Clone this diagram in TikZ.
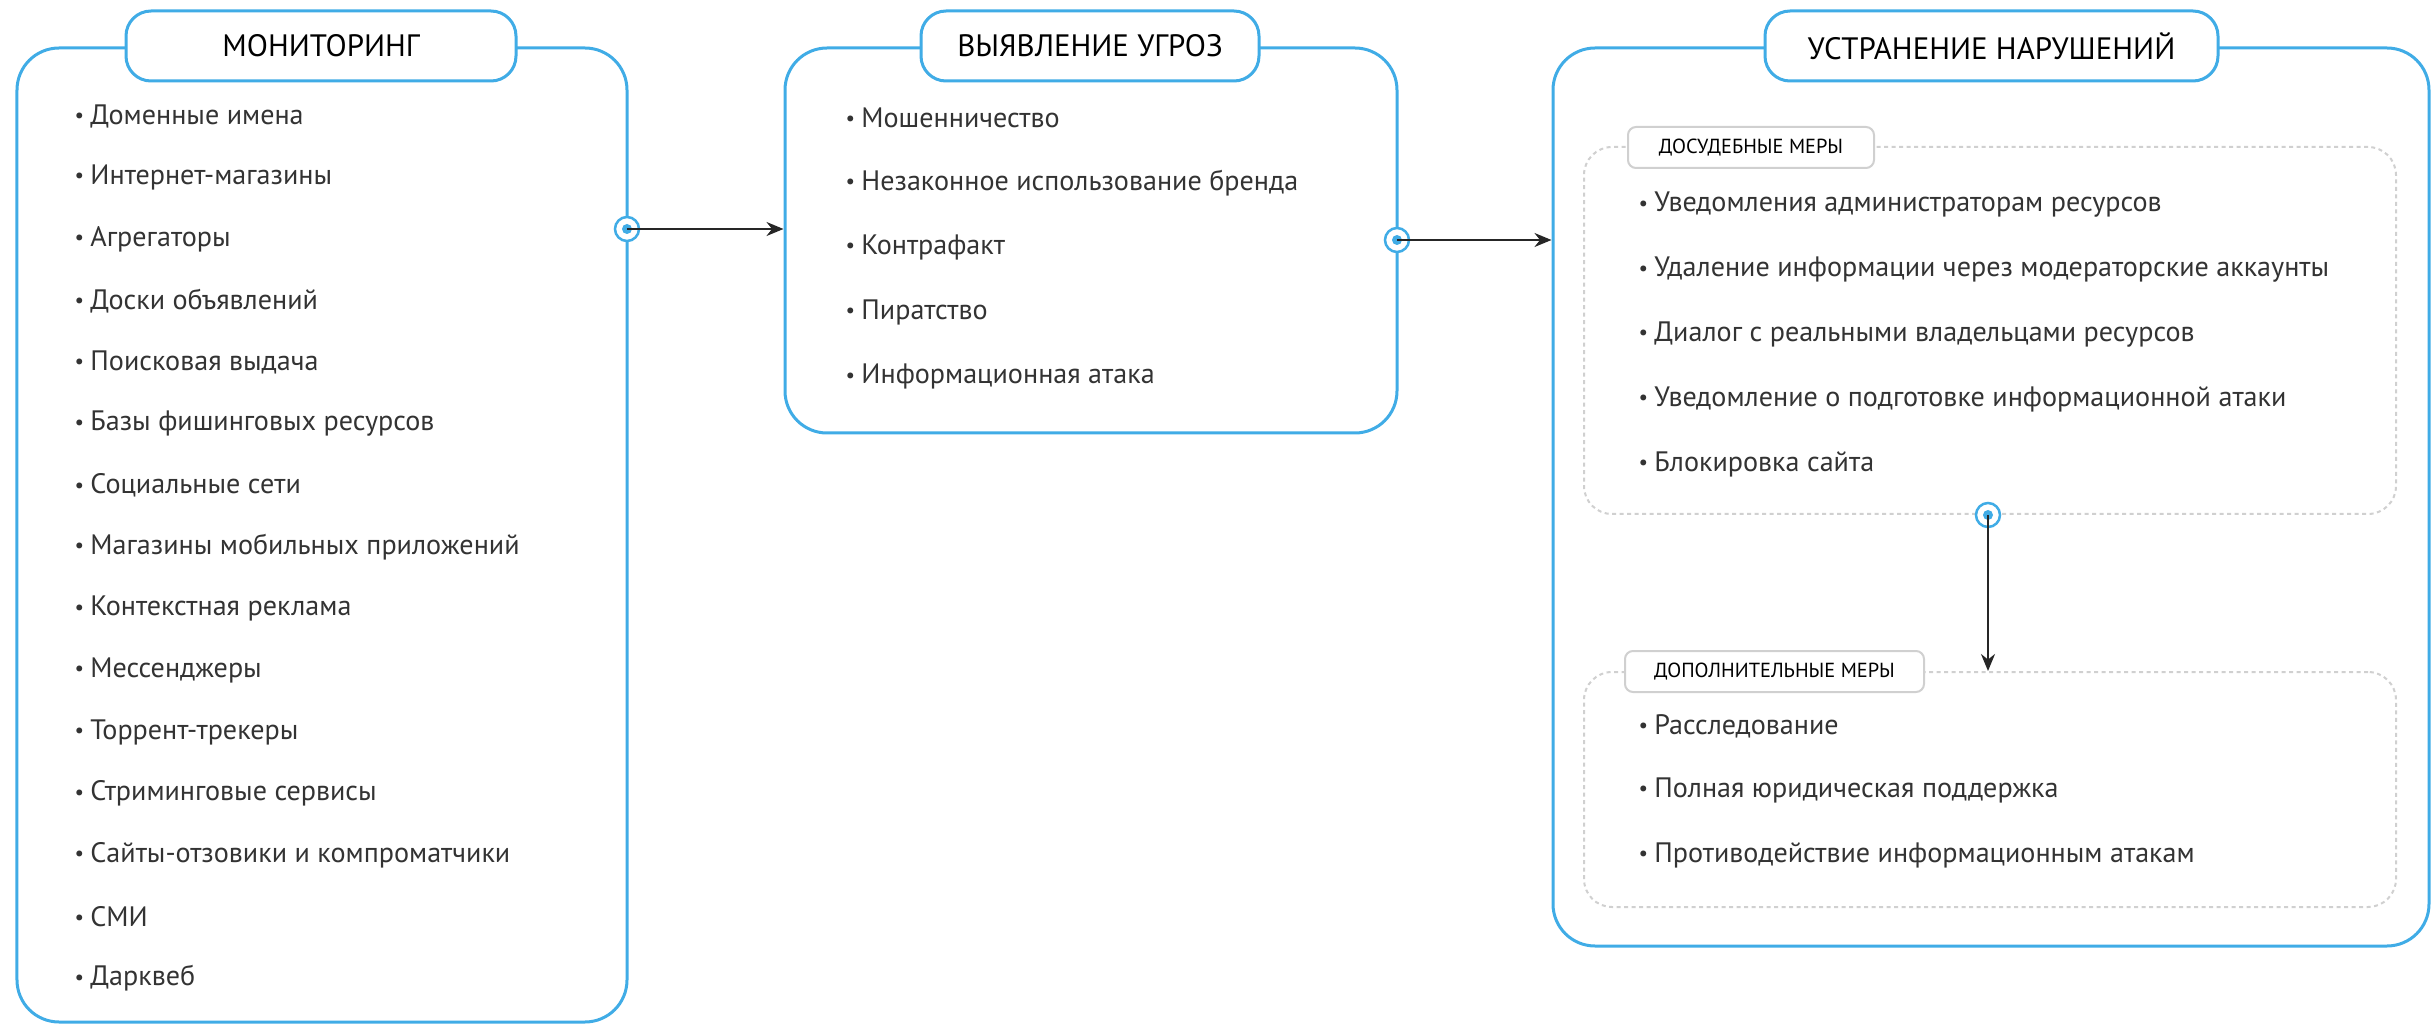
\documentclass[tikz,border=0pt]{standalone}
\usepackage{fontspec}
\setmainfont{PT Sans}
\usepackage{xcolor}
\usepackage{graphicx}
\usepackage{tikz}
\usetikzlibrary{arrows.meta,positioning,calc}
\definecolor{bpblue}{RGB}{64,172,230}
\definecolor{bpgray}{RGB}{208,208,208}
\definecolor{bptext}{RGB}{51,51,51}
\newcommand{\bpdot}{\raisebox{0.12ex}{\scalebox{0.75}{•}}\hspace{0.22em}}
\tikzset{
bpstage/.style={rectangle,rounded corners=0.42cm,draw=bpblue,line width=0.3mm,fill=white,inner sep=0pt},
bphead/.style={rectangle,rounded corners=0.25cm,draw=bpblue,line width=0.3mm,fill=white,inner sep=0pt,minimum height=0.70cm,font=\fontsize{8.8}{11}\selectfont,text=black},
bpgroup/.style={rectangle,rounded corners=0.28cm,draw=bpgray,line width=0.2mm,dash pattern=on 0.4mm off 0.35mm,inner sep=0pt},
bptag/.style={rectangle,rounded corners=0.08cm,draw=bpgray,line width=0.2mm,fill=white,inner sep=0pt,minimum height=0.41cm,font=\fontsize{5.8}{7}\selectfont,text=black},
bpitem/.style={anchor=west,inner sep=0pt,text=bptext,font=\fontsize{8.0}{10}\selectfont},
bpport/.style={circle,draw=bpblue,line width=0.25mm,fill=white,minimum size=0.24cm,inner sep=0pt,path picture={\fill[bpblue] (path picture bounding box.center) circle (0.05cm);}},
bparr/.style={-{Stealth[length=1.7mm,width=1.4mm]},line width=0.2mm,draw=black!85}
}
\begin{document}
\begin{tikzpicture}[
x=1cm,
y=1cm
]
\useasboundingbox (0,0) rectangle (24.32,-10.25);
% stage frames
\node[bpstage,minimum width=6.10cm,minimum height=9.74cm]
  (monitor) at (3.22,-5.35) {};
\node[bpstage,minimum width=6.12cm,minimum height=3.85cm]
  (threat) at (10.91,-2.405) {};
\node[bpstage,minimum width=8.76cm,minimum height=8.98cm]
  (remedy) at (19.91,-4.97) {};
\node[bphead,minimum width=3.90cm] (monhead) at (3.21,-0.46) {МОНИТОРИНГ};
\node[bphead,minimum width=3.38cm] (thrhead) at (10.90,-0.46) {ВЫЯВЛЕНИЕ УГРОЗ};
\node[bphead,minimum width=4.53cm] (remhead) at (19.915,-0.46) {УСТРАНЕНИЕ НАРУШЕНИЙ};
% measure groups
\node[bpgroup,minimum width=8.12cm,minimum height=3.67cm]
  (pretrial) at (19.90,-3.305) {};
\node[bpgroup,minimum width=8.12cm,minimum height=2.35cm]
  (extra) at (19.90,-7.895) {};
\node[bptag,minimum width=2.46cm] (pretag) at (17.51,-1.475) {ДОСУДЕБНЫЕ МЕРЫ};
\node[bptag,minimum width=2.99cm] (extag) at (17.745,-6.715) {ДОПОЛНИТЕЛЬНЫЕ МЕРЫ};
% monitoring list
\node[bpitem] (mon1) at (0.74,-1.160) {\bpdot Доменные имена};
\node[bpitem] (mon2) at (0.74,-1.776) {\bpdot Интернет-магазины};
\node[bpitem] (mon3) at (0.74,-2.392) {\bpdot Агрегаторы};
\node[bpitem] (mon4) at (0.74,-3.008) {\bpdot Доски объявлений};
\node[bpitem] (mon5) at (0.74,-3.624) {\bpdot Поисковая выдача};
\node[bpitem] (mon6) at (0.74,-4.240) {\bpdot Базы фишинговых ресурсов};
\node[bpitem] (mon7) at (0.74,-4.856) {\bpdot Социальные сети};
\node[bpitem] (mon8) at (0.74,-5.472) {\bpdot Магазины мобильных приложений};
\node[bpitem] (mon9) at (0.74,-6.088) {\bpdot Контекстная реклама};
\node[bpitem] (mon10) at (0.74,-6.704) {\bpdot Мессенджеры};
\node[bpitem] (mon11) at (0.74,-7.320) {\bpdot Торрент-трекеры};
\node[bpitem] (mon12) at (0.74,-7.936) {\bpdot Стриминговые сервисы};
\node[bpitem] (mon13) at (0.74,-8.552) {\bpdot Сайты-отзовики и компроматчики};
\node[bpitem] (mon14) at (0.74,-9.168) {\bpdot СМИ};
\node[bpitem] (mon15) at (0.74,-9.784) {\bpdot Дарквеб};
% threat list
\node[bpitem] (thr1) at (8.45,-1.180) {\bpdot Мошенничество};
\node[bpitem] (thr2) at (8.45,-1.827) {\bpdot Незаконное использование бренда};
\node[bpitem] (thr3) at (8.45,-2.474) {\bpdot Контрафакт};
\node[bpitem] (thr4) at (8.45,-3.121) {\bpdot Пиратство};
\node[bpitem] (thr5) at (8.45,-3.768) {\bpdot Информационная атака};
% pretrial list
\node[bpitem] (pre1) at (16.38,-2.050) {\bpdot Уведомления администраторам ресурсов};
\node[bpitem] (pre2) at (16.38,-2.698) {\bpdot Удаление информации через модераторские аккаунты};
\node[bpitem] (pre3) at (16.38,-3.345) {\bpdot Диалог с реальными владельцами ресурсов};
\node[bpitem] (pre4) at (16.38,-3.993) {\bpdot Уведомление о подготовке информационной атаки};
\node[bpitem] (pre5) at (16.38,-4.640) {\bpdot Блокировка сайта};
% extra list
\node[bpitem] (ext1) at (16.38,-7.260) {\bpdot Расследование};
\node[bpitem] (ext2) at (16.38,-7.905) {\bpdot Полная юридическая поддержка};
\node[bpitem] (ext3) at (16.38,-8.550) {\bpdot Противодействие информационным атакам};
% connectors
\node[bpport] (monport) at (6.27,-2.29) {};
\node[bpport] (thrport) at (13.97,-2.40) {};
\node[bpport] (preport) at (19.88,-5.15) {};
\draw[bparr] (monport.center) -- (monport -| threat.west);
\draw[bparr] (thrport.center) -- (thrport -| remedy.west);
\draw[bparr] (preport.center) -- (preport |- extra.north);
\end{tikzpicture}
\end{document}
